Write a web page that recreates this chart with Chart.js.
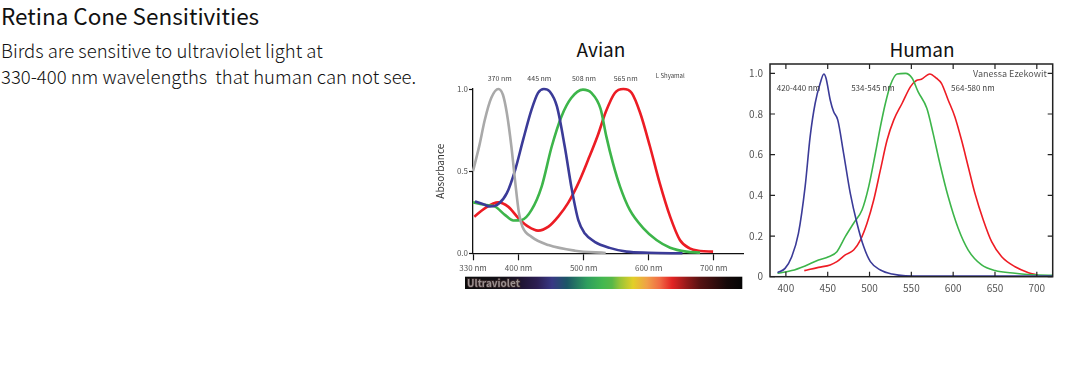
<!DOCTYPE html>
<html>
<head>
<meta charset="utf-8">
<script src="https://cdn.jsdelivr.net/npm/chart.js@4.4.0/dist/chart.umd.min.js"></script>
<style>
  body { margin: 0; background: #fff; width: 1076px; height: 368px; overflow: hidden; position: relative;
         font-family: "Noto Sans CJK KR", "Noto Sans", sans-serif; color: #111; }
  h1 { position: absolute; left: 1px; top: -1px; margin: 0; font-size: 22.5px; line-height: 32px; font-weight: 400; }
  .sub { position: absolute; left: 1px; top: 37px; margin: 0; font-size: 18.5px; line-height: 26px; font-weight: 300; white-space: pre; }
  .ctitle { position: absolute; top: 36px; font-size: 19px; line-height: 26px; transform: translateX(-50%); }
  canvas { position: absolute; }
</style>
</head>
<body>
<h1>Retina Cone Sensitivities</h1>
<p class="sub">Birds are sensitive to ultraviolet light at
330-400 nm wavelengths  that human can not see.</p>
<div class="ctitle" style="left:601px">Avian</div>
<div class="ctitle" style="left:922px">Human</div>
<canvas id="avian" width="320" height="262" style="left:430px; top:40px"></canvas>
<canvas id="human" width="331" height="262" style="left:745px; top:40px"></canvas>
<script>
// avian cone absorbance (wavelength nm / value)
const avianUvNm   = [330, 340, 348, 358, 369, 376, 382, 389, 394.5, 400.7, 406, 420, 446, 487, 534];
const avianUvVal  = [0.50, 0.66, 0.81, 0.945, 1.0, 0.965, 0.854, 0.65, 0.447, 0.244, 0.162, 0.10, 0.05, 0.016, 0.002];
const avianSNm    = [333, 345, 356, 369, 382, 395, 407, 420, 430, 439, 448, 459, 471, 482, 492, 502, 517, 540, 566, 600, 652];
const avianSVal   = [0.315, 0.30, 0.285, 0.30, 0.366, 0.51, 0.69, 0.874, 0.976, 1.0, 0.985, 0.894, 0.65, 0.386, 0.20, 0.12, 0.07, 0.033, 0.01, 0.003, 0.0];
const avianMNm    = [330, 348, 364, 379, 392, 405, 420, 435.5, 451, 466, 481, 499, 512, 526, 535, 545, 556, 571, 592, 612, 633, 658, 679];
const avianMVal   = [0.31, 0.295, 0.284, 0.234, 0.20, 0.203, 0.264, 0.406, 0.65, 0.833, 0.945, 0.996, 0.976, 0.88, 0.71, 0.55, 0.406, 0.264, 0.152, 0.081, 0.034, 0.01, 0.004];
const avianLNm    = [332, 348, 369, 384, 400, 415, 430, 446, 461, 476, 492, 507, 522, 534, 548, 561, 574, 587, 602, 617, 633, 648, 663, 679, 699];
const avianLVal   = [0.223, 0.274, 0.31, 0.284, 0.213, 0.162, 0.138, 0.162, 0.223, 0.305, 0.427, 0.569, 0.72, 0.86, 0.976, 1.0, 0.976, 0.854, 0.65, 0.427, 0.223, 0.081, 0.03, 0.014, 0.01];
const avianTicksX = [330, 400, 500, 600, 700];
const avianTicksY = [0, 0.5, 1];

// human cone sensitivity
const humanSNm  = [390, 399, 407, 415, 423, 429, 435, 441, 445.4, 448, 453, 457, 462, 469, 477, 485, 493, 501, 513, 527, 543, 600, 719];
const humanSVal = [0.02, 0.041, 0.098, 0.213, 0.443, 0.689, 0.853, 0.951, 0.997, 0.976, 0.869, 0.812, 0.771, 0.607, 0.41, 0.263, 0.148, 0.074, 0.033, 0.013, 0.005, 0.003, 0.003];
const humanMNm  = [390, 407, 423, 439, 451, 461, 471, 481, 491, 499, 507, 513, 519, 525, 533, 543, 551, 558, 568.5, 576, 584, 594, 606, 618, 634, 650, 674, 702, 719];
const humanMVal = [0.017, 0.03, 0.053, 0.082, 0.098, 0.123, 0.197, 0.263, 0.328, 0.443, 0.607, 0.738, 0.853, 0.943, 0.997, 1.0, 0.976, 0.91, 0.828, 0.705, 0.558, 0.394, 0.238, 0.131, 0.058, 0.03, 0.017, 0.008, 0.007];
const humanLNm  = [422, 439, 453, 461, 471, 481, 489, 497, 505, 513, 521, 529, 539, 549, 556, 562, 572, 580, 586, 594, 602, 610, 618, 626, 636, 646, 658, 674, 690, 701];
const humanLVal = [0.03, 0.046, 0.058, 0.074, 0.107, 0.131, 0.18, 0.263, 0.377, 0.525, 0.672, 0.771, 0.853, 0.935, 0.965, 0.971, 0.997, 0.976, 0.951, 0.869, 0.787, 0.672, 0.541, 0.41, 0.279, 0.172, 0.098, 0.049, 0.02, 0.008];
const humanTicksX = [400, 450, 500, 550, 600, 650, 700];
const humanTicksY = [0, 0.2, 0.4, 0.6, 0.8, 1.0];

// text notes placed in data units
const avianNotes = [
  { text: '370 nm', x: 371, y: 1.067 },
  { text: '445 nm', x: 432, y: 1.067 },
  { text: '508 nm', x: 500.5, y: 1.067 },
  { text: '565 nm', x: 564.6, y: 1.067 },
  { text: 'L Shyamal', x: 611, y: 1.08, align: 'left', size: 6 }
];
const humanNotes = [
  { text: '420-440 nm', x: 389, y: 0.93, align: 'left' },
  { text: '534-545 nm', x: 478, y: 0.93, align: 'left' },
  { text: '564-580 nm', x: 597.5, y: 0.93, align: 'left' },
  { text: 'Vanessa Ezekowit', x: 712, y: 0.997, align: 'right', size: 9, color: '#555' }
];

const FONT = '"Noto Sans CJK KR", "Noto Sans", sans-serif';
Chart.defaults.font.family = FONT;

function pts(xs, ys) {
  return xs.map((x, i) => ({ x: x, y: ys[i] }));
}

function line(xs, ys, color, w) {
  return {
    data: pts(xs, ys),
    borderColor: color,
    borderWidth: w,
    pointRadius: 0,
    fill: false,
    cubicInterpolationMode: 'monotone',
    clip: false
  };
}

//draws small text notes at data positions
function notesPlugin(notes, defSize) {
  return {
    id: 'notes',
    afterDraw(chart) {
      const ctx = chart.ctx, x = chart.scales.x, y = chart.scales.y;
      ctx.save();
      ctx.textBaseline = 'middle';
      notes.forEach(n => {
        ctx.font = (n.size || defSize) + 'px ' + FONT;
        ctx.fillStyle = n.color || '#444';
        ctx.textAlign = n.align || 'center';
        ctx.fillText(n.text, x.getPixelForValue(n.x), y.getPixelForValue(n.y));
      });
      ctx.restore();
    }
  };
}

//spectrum strip under avian chart
const spectrumPlugin = {
  id: 'spectrum',
  afterDraw(chart) {
    const ctx = chart.ctx, a = chart.chartArea;
    const left = a.left - 8, right = a.right - 0.7, top = a.bottom + 23.4, h = 12.3;
    const g = ctx.createLinearGradient(left, 0, right, 0);
    const stops = [[0, '#0b0b0b'], [40, '#141018'], [55, '#1e1430'], [72, '#2c1e52'], [87, '#383884'],
      [102, '#1c5666'], [122, '#2e9e5e'], [138, '#44b850'], [147, '#58b848'], [155, '#98c438'],
      [168, '#e2cf28'], [182, '#f0a048'], [195, '#f06a44'], [207, '#e22424'], [222, '#921a1a'],
      [235, '#561212'], [262, '#150808'], [277.3, '#050505']];
    stops.forEach(s => g.addColorStop(s[0] / 277.3, s[1]));
    ctx.save();
    ctx.fillStyle = g;
    ctx.fillRect(left, top, right - left, h);
    ctx.font = 'bold 10px ' + FONT;
    ctx.textBaseline = 'middle';
    ctx.lineWidth = 1.5;
    ctx.strokeStyle = '#3a2a2a';
    ctx.strokeText('Ultraviolet', left + 2, top + h / 2 + 0.5);
    ctx.fillStyle = '#9a9090';
    ctx.fillText('Ultraviolet', left + 2, top + h / 2 + 0.5);
    ctx.restore();
  }
};

//box + inward ticks for the human chart
const boxPlugin = {
  id: 'box',
  afterDraw(chart) {
    const ctx = chart.ctx, a = chart.chartArea, x = chart.scales.x, y = chart.scales.y;
    ctx.save();
    ctx.strokeStyle = '#222';
    ctx.lineWidth = 1.5;
    ctx.strokeRect(a.left, a.top, a.right - a.left, a.bottom - a.top);
    ctx.lineWidth = 1.2;
    ctx.beginPath();
    humanTicksY.forEach(v => {
      const py = y.getPixelForValue(v);
      ctx.moveTo(a.left, py); ctx.lineTo(a.left + 5, py);
      ctx.moveTo(a.right, py); ctx.lineTo(a.right - 5, py);
    });
    humanTicksX.forEach(v => {
      const px = x.getPixelForValue(v);
      ctx.moveTo(px, a.bottom); ctx.lineTo(px, a.bottom - 5);
      ctx.moveTo(px, a.top); ctx.lineTo(px, a.top + 5);
    });
    ctx.stroke();
    ctx.restore();
  }
};

new Chart(document.getElementById('avian'), {
  type: 'line',
  data: {
    datasets: [
      line(avianUvNm, avianUvVal, '#a9a9a9', 2.6),
      line(avianSNm, avianSVal, '#3b3b98', 2.6),
      line(avianMNm, avianMVal, '#3db54a', 2.6),
      line(avianLNm, avianLVal, '#ec1c24', 2.6)
    ]
  },
  options: {
    responsive: false,
    animation: false,
    layout: { padding: { top: 49, right: 7, left: 0, bottom: 0 } },
    plugins: { legend: { display: false }, tooltip: { enabled: false } },
    scales: {
      x: {
        type: 'linear', min: 330, max: 745,
        afterBuildTicks: s => { s.ticks = avianTicksX.map(v => ({ value: v })); },
        afterFit: s => { s.height = 262 - 213.3; },
        border: { color: '#111', width: 1.3 },
        grid: { drawOnChartArea: false, tickLength: 7, color: '#111', tickWidth: 1.2 },
        ticks: { color: '#555', font: { size: 8 }, padding: 3, maxRotation: 0, callback: v => v + ' nm' }
      },
      y: {
        min: 0, max: 1,
        afterBuildTicks: s => { s.ticks = avianTicksY.map(v => ({ value: v })); },
        afterFit: s => { s.width = 43; },
        border: { color: '#111', width: 1.3 },
        grid: { drawOnChartArea: false, tickLength: 4, color: '#111', tickWidth: 1.2 },
        ticks: { color: '#555', font: { size: 8 }, padding: 1, callback: v => v.toFixed(1) },
        title: { display: true, text: 'Absorbance', color: '#333', font: { size: 10 }, padding: { top: 4, bottom: 0 } }
      }
    }
  },
  plugins: [notesPlugin(avianNotes, 7), spectrumPlugin]
});

new Chart(document.getElementById('human'), {
  type: 'line',
  data: {
    datasets: [
      line(humanSNm, humanSVal, '#3b3b98', 1.6),
      line(humanMNm, humanMVal, '#3db54a', 1.6),
      line(humanLNm, humanLVal, '#ee1c24', 1.6)
    ]
  },
  options: {
    responsive: false,
    animation: false,
    layout: { padding: { top: 24, right: 23.3, left: 0, bottom: 0 } },
    plugins: { legend: { display: false }, tooltip: { enabled: false } },
    scales: {
      x: {
        type: 'linear', min: 381, max: 719,
        afterBuildTicks: s => { s.ticks = humanTicksX.map(v => ({ value: v })); },
        afterFit: s => { s.height = 262 - 236.7; },
        border: { display: false },
        grid: { drawOnChartArea: false, drawTicks: false },
        ticks: { color: '#555', font: { size: 10 }, padding: 6, maxRotation: 0 }
      },
      y: {
        min: 0, max: 1.046,
        afterBuildTicks: s => { s.ticks = humanTicksY.map(v => ({ value: v })); },
        afterFit: s => { s.width = 25; },
        border: { display: false },
        grid: { drawOnChartArea: false, drawTicks: false },
        ticks: { color: '#555', font: { size: 10 }, padding: 7, callback: v => v === 0 ? '0' : v.toFixed(1) }
      }
    }
  },
  plugins: [notesPlugin(humanNotes, 8), boxPlugin]
});
</script>
</body>
</html>
